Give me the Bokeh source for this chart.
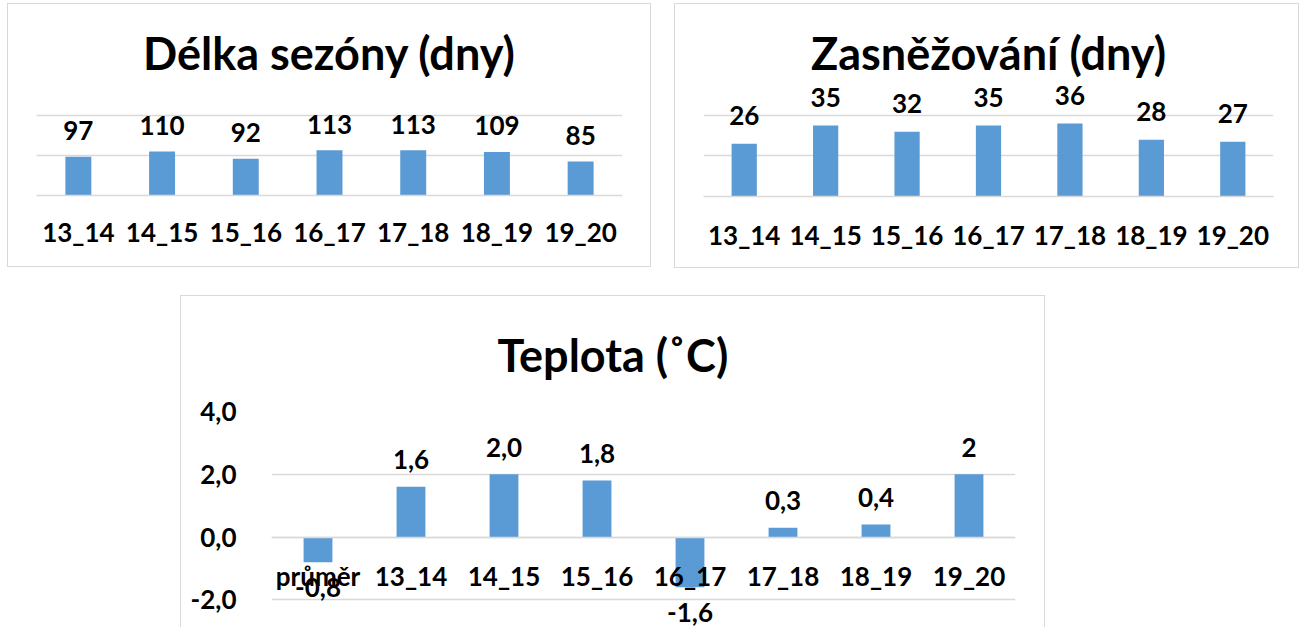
from bokeh.plotting import figure
from bokeh.models import ColumnDataSource, FixedTicker, Range1d, CustomJSTickFormatter, Spacer
from bokeh.layouts import row, column
from bokeh.core.properties import value
from bokeh.embed import file_html
from bokeh.resources import INLINE

# ---------------- data ----------------
seasons = ["13_14", "14_15", "15_16", "16_17", "17_18", "18_19", "19_20"]
season_length = [97, 110, 92, 113, 113, 109, 85]
season_length_labels = ["97", "110", "92", "113", "113", "109", "85"]
snowmaking_days = [26, 35, 32, 35, 36, 28, 27]
snowmaking_labels = ["26", "35", "32", "35", "36", "28", "27"]
temp_categories = ["průměr", "13_14", "14_15", "15_16", "16_17", "17_18", "18_19", "19_20"]
temperature = [-0.8, 1.6, 2.0, 1.8, -1.6, 0.3, 0.4, 2.0]
temperature_labels = ["-0,8", "1,6", "2,0", "1,8", "-1,6", "0,3", "0,4", "2"]
length_ticks = [0, 100, 200]
snow_ticks = [0, 20, 40]
temp_ticks = [-2, 0, 2, 4]
temp_tick_labels = ["-2,0", "0,0", "2,0", "4,0"]

# ---------------- style ----------------
BLUE = "#5B9BD5"
GRID = "#D9D9D9"
FONT = "Lato"
TITLE_SIZE = "45px"
LABEL_SIZE = "26px"


def make_chart(title, cats, vals, labels, width, height, borders, y_range, ticks,
               title_standoff, box_style, x_standoff, pos_offset=-27):
    left, right, top, bottom = borders
    p = figure(x_range=cats, y_range=y_range, width=width, height=height,
               output_backend="svg", toolbar_location=None,
               min_border_left=left, min_border_right=right,
               min_border_top=top, min_border_bottom=bottom,
               background_fill_color=None, border_fill_color=None,
               styles=box_style)
    p.outline_line_color = None
    p.title.text = title
    p.title.text_font = FONT
    p.title.text_font_size = TITLE_SIZE
    p.title.text_font_style = "bold"
    p.title.text_color = "#000000"
    p.title.align = "center"
    p.title.standoff = title_standoff

    p.vbar(x=cats, top=vals, width=0.31, fill_color=BLUE, line_color=None)

    pos = ColumnDataSource(dict(
        x=[c for c, v in zip(cats, vals) if v >= 0],
        y=[v for v in vals if v >= 0],
        t=[l for l, v in zip(labels, vals) if v >= 0]))
    neg = ColumnDataSource(dict(
        x=[c for c, v in zip(cats, vals) if v < 0],
        y=[v for v in vals if v < 0],
        t=[l for l, v in zip(labels, vals) if v < 0]))
    common = dict(text="t", text_font=value(FONT), text_font_size=value(LABEL_SIZE),
                  text_font_style="bold", text_color="#000000", text_align="center")
    p.text(x="x", y="y", source=pos, text_baseline="alphabetic", y_offset=pos_offset, **common)
    p.text(x="x", y="y", source=neg, text_baseline="top", y_offset=16, **common)

    p.xgrid.visible = False
    p.ygrid.ticker = FixedTicker(ticks=ticks)
    p.ygrid.grid_line_color = GRID
    p.ygrid.grid_line_width = 1.3

    xa = p.xaxis[0]
    xa.axis_line_color = GRID
    xa.axis_line_width = 1.3
    xa.major_tick_line_color = None
    xa.minor_tick_line_color = None
    xa.major_label_text_font = FONT
    xa.major_label_text_font_size = LABEL_SIZE
    xa.major_label_text_font_style = "bold"
    xa.major_label_text_color = "#000000"
    xa.major_label_standoff = x_standoff
    return p


box_all = {"box-shadow": "inset 0 0 0 1px #D9D9D9"}
box_open_bottom = {"box-shadow": "inset 1px 1px 0 0 #D9D9D9, inset -1px 0 0 0 #D9D9D9"}

# Chart 1: season length
p1 = make_chart("Délka sezóny (dny)", seasons, season_length, season_length_labels,
                644, 264, (29, 29, 80, 72), Range1d(0, 280), length_ticks, 8, box_all, 14,
                pos_offset=-26)
p1.yaxis.visible = False

# Chart 2: snowmaking days
p2 = make_chart("Zasněžování (dny)", seasons, snowmaking_days, snowmaking_labels,
                625, 265, (29, 26, 80, 72), Range1d(0, 55.8), snow_ticks, 8, box_all, 16,
                pos_offset=-28)
p2.yaxis.visible = False

# Chart 3: temperature
p3 = make_chart("Teplota (˚C)", temp_categories, temperature, temperature_labels,
                865, 332, (91, 30, 114, 0), Range1d(-2.88, 4), temp_ticks, 60,
                box_open_bottom, 17, pos_offset=-27)
p3.title.align = "left"
p3.title.offset = 226
p3.xaxis[0].fixed_location = 0
ya = p3.yaxis[0]
ya.ticker = FixedTicker(ticks=temp_ticks)
ya.formatter = CustomJSTickFormatter(
    args=dict(tvals=temp_ticks, tlabels=temp_tick_labels),
    code="const i = tvals.indexOf(tick); return i >= 0 ? tlabels[i] : '';")
ya.axis_line_color = None
ya.major_tick_line_color = None
ya.minor_tick_line_color = None
ya.major_label_text_font = FONT
ya.major_label_text_font_size = LABEL_SIZE
ya.major_label_text_font_style = "bold"
ya.major_label_text_color = "#000000"
ya.major_label_standoff = 29

layout = column(
    row(p1, Spacer(width=23), p2),
    Spacer(height=27),
    row(Spacer(width=173), p3),
    margin=(3, 0, 0, 7),
)

open("out.html", "w").write(file_html(layout, INLINE))
